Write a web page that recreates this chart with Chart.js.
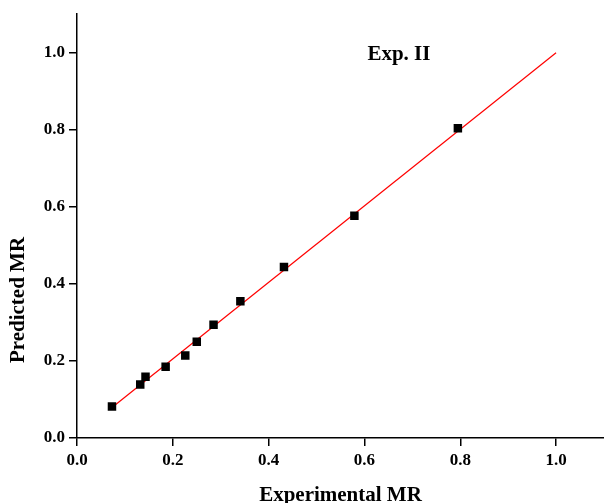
<!DOCTYPE html>
<html>
<head>
<meta charset="utf-8">
<script src="https://cdn.jsdelivr.net/npm/chart.js@4"></script>
<style>
  html, body { margin: 0; padding: 0; background: #fff; }
  #wrap { width: 604px; height: 503px; }
</style>
</head>
<body>
<div id="wrap"><canvas id="chart" width="604" height="503"></canvas></div>
<script>
// experimental vs predicted moisture ratio
const expMR = [0.073, 0.132, 0.143, 0.185, 0.226, 0.250, 0.285, 0.341, 0.432, 0.579, 0.795];
const predMR = [0.082, 0.139, 0.159, 0.185, 0.214, 0.250, 0.294, 0.355, 0.444, 0.577, 0.804];

// fitted line end points
const fitX = [0.073, 1.0];
const fitY = [0.079, 1.0];

const tickVals = [0, 0.2, 0.4, 0.6, 0.8, 1.0];

const serif = "'Liberation Serif', 'DejaVu Serif', serif";

const labelsPlugin = {
  id: 'labels',
  afterDraw(chart) {
    const ctx = chart.ctx;
    const xs = chart.scales.x, ys = chart.scales.y;
    ctx.save();
    ctx.fillStyle = '#000';
    ctx.font = 'bold 21px ' + serif;
    ctx.textAlign = 'center';
    ctx.textBaseline = 'middle';
    ctx.fillText('Exp. II', xs.getPixelForValue(0.672), ys.getPixelForValue(0.995));

    ctx.font = 'bold 21px ' + serif;
    ctx.fillText('Experimental MR', (chart.chartArea.left + chart.chartArea.right) / 2, 496);

    ctx.translate(19, 300);
    ctx.rotate(-Math.PI / 2);
    ctx.fillText('Predicted MR', 0, 0);
    ctx.restore();
  }
};

const onlyTicks = scale => {
  scale.ticks = tickVals.map(v => ({ value: v }));
};

new Chart(document.getElementById('chart'), {
  type: 'scatter',
  data: {
    datasets: [
      {
        type: 'line',
        data: fitX.map((x, i) => ({ x: x, y: fitY[i] })),
        borderColor: '#ff0000',
        borderWidth: 1.2,
        pointRadius: 0,
        fill: false,
        order: 2
      },
      {
        data: expMR.map((x, i) => ({ x: x, y: predMR[i] })),
        pointStyle: 'rect',
        pointRadius: 6,
        backgroundColor: '#000',
        borderColor: '#000',
        borderWidth: 0,
        order: 1
      }
    ]
  },
  options: {
    responsive: false,
    animation: false,
    layout: { autoPadding: false, padding: { top: 14, right: 0, left: 0, bottom: 0 } },
    plugins: {
      legend: { display: false },
      tooltip: { enabled: false }
    },
    scales: {
      x: {
        type: 'linear',
        min: 0,
        max: 1.1,
        afterBuildTicks: onlyTicks,
        afterFit: s => { s.height = 65; },
        border: { color: '#000', width: 1.5 },
        grid: { drawOnChartArea: false, drawTicks: true, tickLength: 8, color: '#000', lineWidth: 1.5 },
        ticks: {
          color: '#000',
          padding: 4,
          font: { family: serif, size: 17, weight: 'bold' },
          callback: v => v.toFixed(1)
        }
      },
      y: {
        type: 'linear',
        min: 0,
        max: 1.1,
        afterBuildTicks: onlyTicks,
        afterFit: s => { s.width = 77; },
        border: { color: '#000', width: 1.5 },
        grid: { drawOnChartArea: false, drawTicks: true, tickLength: 8, color: '#000', lineWidth: 1.5 },
        ticks: {
          color: '#000',
          padding: 4,
          font: { family: serif, size: 17, weight: 'bold' },
          callback: v => v.toFixed(1)
        }
      }
    }
  },
  plugins: [labelsPlugin]
});
</script>
</body>
</html>
